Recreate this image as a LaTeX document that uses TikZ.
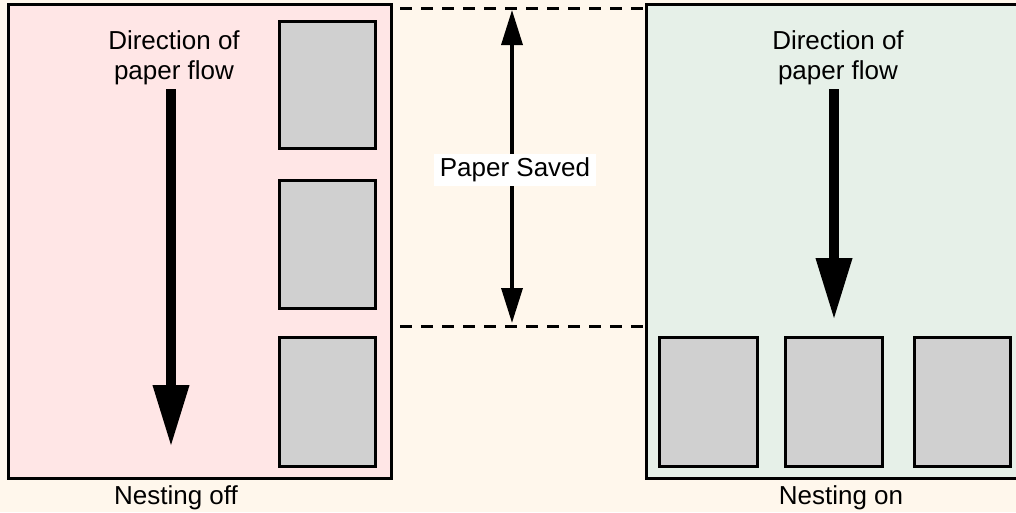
\documentclass[tikz,border=0pt]{standalone}
\usepackage{fontspec}
\setmainfont{Liberation Sans}
\usetikzlibrary{arrows.meta}
\definecolor{creambg}{RGB}{255,247,236}
\definecolor{pinkpanel}{RGB}{255,230,230}
\definecolor{greenpanel}{RGB}{230,240,232}
\definecolor{sheetgray}{RGB}{208,208,208}

\begin{document}
\begin{tikzpicture}[x=1pt, y=-1pt, line join=miter,
  panel/.style={draw=black, line width=3pt},
  sheet/.style={draw=black, line width=3pt, fill=sheetgray},
  label/.style={font=\fontsize{26}{30}\selectfont, inner sep=0pt, align=center},
  flowarrow/.style={line width=10pt, -{Triangle[length=62pt,width=34pt]}},
  savedarrow/.style={line width=3.5pt,
    {Triangle[length=35pt,width=21pt]}-{Triangle[length=35pt,width=21pt]}},
  guide/.style={line width=3pt, dash pattern=on 12pt off 9pt}]

  % ---------- background ----------
  \fill[creambg] (0,0) rectangle (1016,512);
  \useasboundingbox (0,0) rectangle (1016,512);
  \clip (0,0) rectangle (1016,512);

  % ---------- left panel: nesting off ----------
  \draw[panel, fill=pinkpanel] (8,4) rectangle (391,478);
  \foreach \top/\bot in {21/148, 180/308, 337/466}
    \draw[sheet] (279,\top) rectangle (375,\bot);
  \node[label, anchor=base] (ldir) at (174,79) {Direction of\\paper flow};
  \coordinate (lstart) at (171,89);
  \coordinate (ltip) at (171,447);
  \draw[flowarrow] (lstart) -- (ltip);
  \node[label, anchor=base] (loff) at (176,504) {Nesting off};

  % ---------- right panel: nesting on ----------
  \draw[panel, fill=greenpanel] (646,4) rectangle (1030,478);
  \foreach \left/\right in {659/757, 785/882, 914/1010}
    \draw[sheet] (\left,337) rectangle (\right,466);
  \node[label, anchor=base] (rdir) at (838,79) {Direction of\\paper flow};
  \coordinate (rstart) at (834,89);
  \coordinate (rtip) at (834,320);
  \draw[flowarrow] (rstart) -- (rtip);
  \node[label, anchor=base] (ron) at (841,504) {Nesting on};

  % ---------- paper saved ----------
  \coordinate (gtl) at (400,8);
  \coordinate (gtr) at (643,8);
  \coordinate (gbl) at (400,326);
  \coordinate (gbr) at (643,326);
  \draw[guide] (gtl) -- (gtr);
  \draw[guide] (gbl) -- (gbr);
  \coordinate (stop) at (512,10);
  \coordinate (sbot) at (512,323);
  \draw[savedarrow] (stop) -- (sbot);
  \node[label, fill=white, inner xsep=6pt, inner ysep=3.5pt] (saved) at (515,170) {Paper Saved};

\end{tikzpicture}
\end{document}
